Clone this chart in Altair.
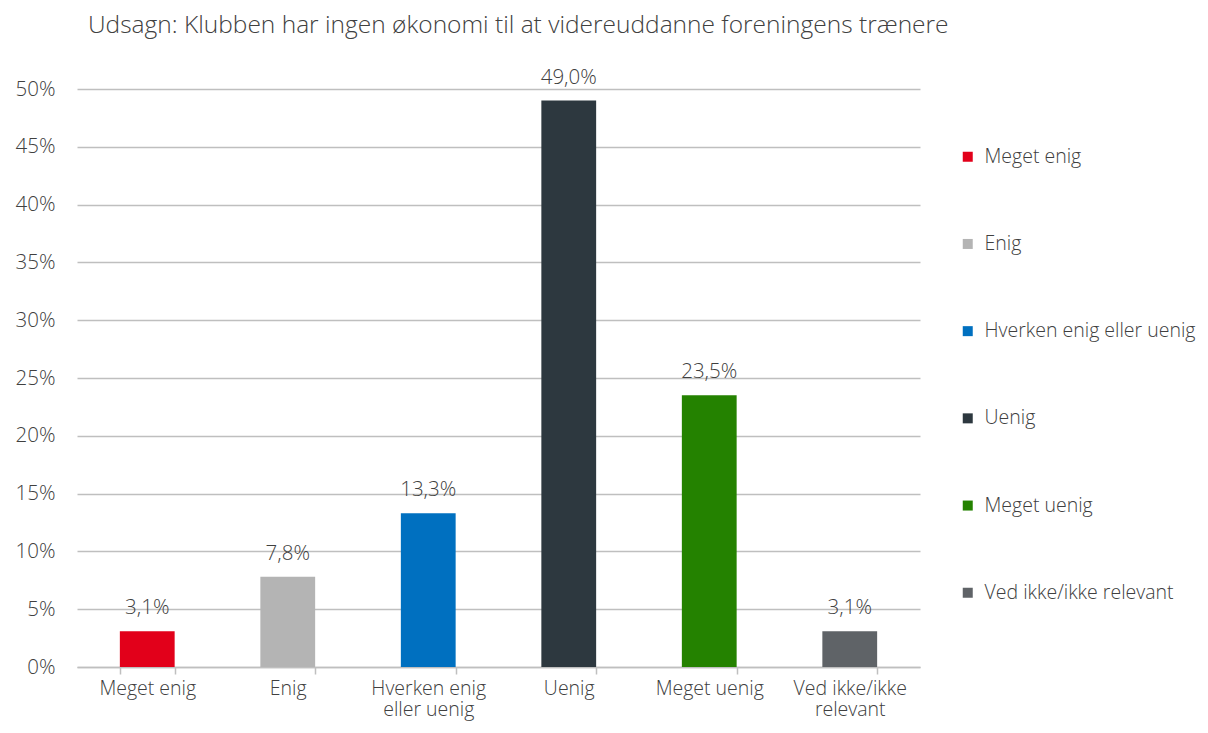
import altair as alt
import pandas as pd

categories = ["Meget enig", "Enig", "Hverken enig eller uenig", "Uenig", "Meget uenig", "Ved ikke/ikke relevant"]
axis_labels = [["Meget enig"], ["Enig"], ["Hverken enig", "eller uenig"], ["Uenig"], ["Meget uenig"], ["Ved ikke/ikke", "relevant"]]
values = [3.1, 7.8, 13.3, 49.0, 23.5, 3.1]
colors = ["#E2001A", "#B4B4B4", "#0070C0", "#2D383F", "#248200", "#5F6367"]
title = "Udsagn: Klubben har ingen økonomi til at videreuddanne foreningens trænere"

df = pd.DataFrame({"cat": categories, "value": values})

FONT = "Open Sans"
TXT = "#404040"
FS = 20.5

label_expr = " : ".join(
    f"datum.label == '{c}' ? {l!r}" for c, l in zip(categories, axis_labels)
) + " : datum.label"

x = alt.X("cat:N", sort=categories, title=None,
          scale=alt.Scale(paddingInner=0.61, paddingOuter=0.305),
          axis=alt.Axis(labelAngle=0, labelExpr=label_expr, labelFontSize=19.5, labelFont=FONT,
                        labelFontWeight=300, labelColor=TXT, labelPadding=5, labelLineHeight=21.5,
                        domainColor="#BFBFBF", domainWidth=1.5, tickColor="#BFBFBF", tickWidth=1.5,
                        tickSize=7, tickBand="extent", grid=False, labelBaseline="top"))

y = alt.Y("value:Q", title=None, scale=alt.Scale(domain=[0, 50], nice=False),
          axis=alt.Axis(values=list(range(0, 51, 5)), labelExpr="datum.value + '%'", labelFontSize=FS,
                        labelFont=FONT, labelFontWeight=300, labelColor=TXT, labelPadding=22,
                        domain=False, ticks=False, grid=True, gridColor="#BFBFBF", gridWidth=1.5))

bars = alt.Chart(df).mark_bar().encode(
    x=x, y=y,
    color=alt.Color("cat:N", sort=categories, scale=alt.Scale(domain=categories, range=colors),
                    legend=alt.Legend(title=None, orient="none", legendX=881, legendY=58, padding=0,
                                      symbolType="square", symbolSize=100, symbolStrokeWidth=0,
                                      labelFontSize=19.5, labelFont=FONT, labelFontWeight=300,
                                      labelColor=TXT, rowPadding=66.2, labelOffset=7, labelLimit=400)),
)

labels = alt.Chart(df).transform_calculate(
    lab="replace(format(datum.value, '.1f'), '.', ',') + '%'"
).mark_text(baseline="bottom", dy=-13, fontSize=FS, font=FONT, fontWeight=300, color=TXT).encode(
    x=alt.X("cat:N", sort=categories), y="value:Q", text="lab:N"
)

chart = (bars + labels).properties(
    width=843, height=578,
    autosize=alt.AutoSizeParams(type="none"),
    padding={"left": 69, "top": 81, "right": 280, "bottom": 56},
    title=alt.Title(title, anchor="start", frame="group", dx=11, offset=29, fontSize=24.5,
                    font=FONT, fontWeight=300, color=TXT),
).configure_view(stroke=None)

chart.save("out.html", embed_options={"renderer": "svg", "actions": False})
